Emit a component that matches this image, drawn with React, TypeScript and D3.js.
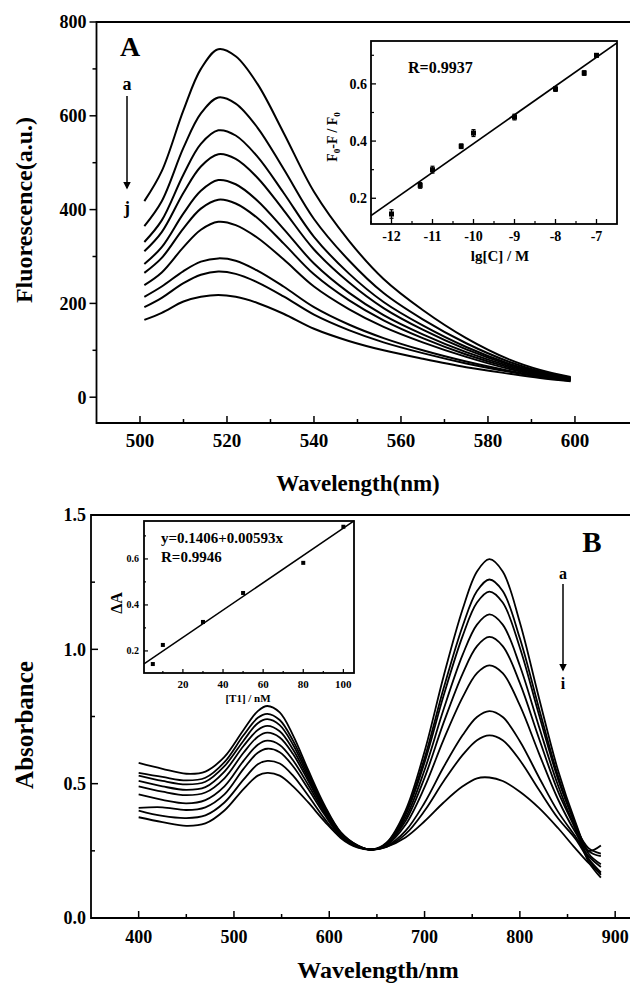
import React from "react";
import * as d3 from "d3";

// ---------- Panel A data ----------
const fluoWavelength = [501, 505, 510, 514, 518, 522, 527, 533, 540, 548, 556, 565, 575, 585, 592, 599];
const fluoLabels = ["a", "b", "c", "d", "e", "f", "g", "h", "i", "j"];
const fluoA = [418, 482, 612, 700, 742, 727, 668, 564, 438, 334, 252, 186, 126, 80, 58, 43];
const fluoB = [365, 418, 532, 605, 639, 626, 575, 487, 380, 292, 222, 166, 115, 75, 55, 42];
const fluoC = [331, 377, 475, 540, 569, 558, 513, 436, 342, 264, 203, 153, 107, 71, 53, 41];
const fluoD = [311, 352, 436, 492, 518, 508, 468, 399, 315, 245, 190, 144, 102, 69, 52, 40];
const fluoE = [284, 320, 392, 440, 463, 454, 419, 359, 285, 223, 175, 134, 96, 66, 50, 39];
const fluoF = [265, 297, 360, 402, 421, 413, 382, 328, 262, 207, 164, 126, 91, 63, 48, 38];
const fluoG = [239, 266, 320, 357, 374, 367, 340, 294, 236, 188, 150, 117, 86, 60, 46, 37];
const fluoH = [214, 236, 269, 289, 296, 291, 270, 236, 192, 155, 126, 100, 76, 56, 44, 36];
const fluoI = [192, 212, 243, 261, 268, 263, 245, 215, 176, 143, 117, 94, 72, 54, 43, 35];
const fluoJ = [165, 180, 204, 214, 218, 214, 201, 178, 146, 120, 100, 82, 64, 50, 41, 34];
const fluoSeries = [fluoA, fluoB, fluoC, fluoD, fluoE, fluoF, fluoG, fluoH, fluoI, fluoJ];
const fluoXTicks = [500, 520, 540, 560, 580, 600];
const fluoYTicks = [0, 200, 400, 600, 800];

// Inset A
const lgC = [-12, -11.3, -11, -10.3, -10, -9, -8, -7.3, -7];
const quench = [0.145, 0.245, 0.3, 0.382, 0.428, 0.484, 0.582, 0.638, 0.7];
const quenchErr = [0.015, 0.01, 0.012, 0.008, 0.012, 0.01, 0.008, 0.008, 0.006];
const quenchFitIntercept = 1.398;
const quenchFitSlope = 0.1007;
const insetAXTicks = [-12, -11, -10, -9, -8, -7];
const insetAYTicks = [0.2, 0.4, 0.6];

// ---------- Panel B data ----------
const absWavelength = [400, 425, 450, 470, 490, 510, 525, 535, 548, 562, 578, 595, 612, 630, 645, 660, 680, 700, 720, 740, 755, 768, 782, 800, 820, 840, 858, 872, 885];
const absA = [0.577, 0.555, 0.537, 0.545, 0.6, 0.7, 0.77, 0.789, 0.765, 0.68, 0.55, 0.42, 0.32, 0.27, 0.255, 0.28, 0.4, 0.62, 0.9, 1.15, 1.29, 1.336, 1.29, 1.1, 0.82, 0.55, 0.36, 0.24, 0.2];
const absB = [0.54, 0.525, 0.512, 0.522, 0.58, 0.68, 0.745, 0.76, 0.737, 0.66, 0.54, 0.415, 0.318, 0.27, 0.255, 0.278, 0.39, 0.595, 0.855, 1.087, 1.217, 1.26, 1.217, 1.041, 0.781, 0.529, 0.352, 0.25, 0.23];
const absC = [0.53, 0.51, 0.497, 0.507, 0.565, 0.66, 0.725, 0.74, 0.718, 0.645, 0.53, 0.41, 0.315, 0.268, 0.255, 0.277, 0.384, 0.579, 0.828, 1.05, 1.174, 1.215, 1.174, 1.006, 0.757, 0.517, 0.348, 0.22, 0.16];
const absD = [0.51, 0.49, 0.477, 0.487, 0.545, 0.64, 0.7, 0.715, 0.695, 0.627, 0.52, 0.405, 0.313, 0.267, 0.255, 0.275, 0.372, 0.551, 0.777, 0.98, 1.092, 1.13, 1.092, 0.939, 0.713, 0.494, 0.34, 0.26, 0.24];
const absE = [0.49, 0.47, 0.457, 0.467, 0.52, 0.615, 0.675, 0.69, 0.672, 0.61, 0.51, 0.4, 0.31, 0.266, 0.255, 0.273, 0.361, 0.522, 0.727, 0.91, 1.012, 1.046, 1.012, 0.874, 0.669, 0.471, 0.332, 0.21, 0.15];
const absF = [0.46, 0.44, 0.427, 0.439, 0.49, 0.585, 0.645, 0.66, 0.644, 0.587, 0.495, 0.393, 0.307, 0.265, 0.255, 0.271, 0.347, 0.487, 0.664, 0.822, 0.911, 0.94, 0.911, 0.791, 0.613, 0.442, 0.321, 0.25, 0.27];
const absG = [0.41, 0.412, 0.402, 0.412, 0.46, 0.555, 0.615, 0.63, 0.617, 0.565, 0.48, 0.385, 0.303, 0.264, 0.255, 0.267, 0.324, 0.429, 0.562, 0.681, 0.748, 0.77, 0.748, 0.658, 0.524, 0.396, 0.305, 0.23, 0.19];
const absH = [0.4, 0.38, 0.372, 0.382, 0.43, 0.515, 0.572, 0.585, 0.575, 0.53, 0.455, 0.37, 0.298, 0.262, 0.255, 0.265, 0.312, 0.399, 0.509, 0.607, 0.662, 0.68, 0.662, 0.587, 0.477, 0.371, 0.296, 0.22, 0.17];
const absI = [0.375, 0.357, 0.343, 0.352, 0.4, 0.48, 0.53, 0.54, 0.53, 0.49, 0.43, 0.36, 0.3, 0.265, 0.255, 0.265, 0.3, 0.36, 0.43, 0.49, 0.52, 0.523, 0.51, 0.47, 0.41, 0.335, 0.26, 0.205, 0.165];
const absSeries = [absA, absB, absC, absD, absE, absF, absG, absH, absI];
const absXTicks = [400, 500, 600, 700, 800, 900];
const absYTicks = [0, 0.5, 1.0, 1.5];

// Inset B
const tlConc = [5, 10, 30, 50, 80, 100];
const deltaA = [0.143, 0.226, 0.326, 0.452, 0.583, 0.74];
const dAFitIntercept = 0.1406;
const dAFitSlope = 0.00593;
const insetBXTicks = [20, 40, 60, 80, 100];
const insetBYTicks = [0.2, 0.4, 0.6];

const FONT = "'Liberation Serif', 'Times New Roman', serif";

export default function App() {
  const ax = d3.scaleLinear().domain([490, 613]).range([96.5, 631.5]);
  const ay = d3.scaleLinear().domain([-55, 800]).range([423, 22]);
  const aLine = d3
    .line<number>()
    .x((_, i) => ax(fluoWavelength[i]))
    .y((d) => ay(d))
    .curve(d3.curveCatmullRom.alpha(0.5));

  const iax = d3.scaleLinear().domain([-12.5, -6.5]).range([371, 617]);
  const iay = d3.scaleLinear().domain([0.11, 0.75]).range([224, 41]);

  const bx = d3.scaleLinear().domain([350, 925]).range([91, 639]);
  const by = d3.scaleLinear().domain([0, 1.5]).range([918, 515]);
  const bLine = d3
    .line<number>()
    .x((_, i) => bx(absWavelength[i]))
    .y((d) => by(d))
    .curve(d3.curveCatmullRom.alpha(0.5));

  const ibx = d3.scaleLinear().domain([0.6, 105.3]).range([144, 354]);
  const iby = d3.scaleLinear().domain([0.104, 0.765]).range([673, 521]);

  const axMinor = d3.range(510, 600, 20);
  const ayMinor = d3.range(100, 800, 200);
  const bxMinor = d3.range(450, 900, 100);
  const byMinor = [0.25, 0.75, 1.25];
  const iaxMinor = d3.range(-12.5, -6.5, 1);
  const iayMinor = [0.3, 0.5, 0.7];
  const ibxMinor = d3.range(10, 110, 20);
  const ibyMinor = [0.3, 0.5, 0.7];

  const sw = 1.8;

  return (
    <svg
      width={630}
      height={984}
      style={{ position: "absolute", left: 0, top: 0, background: "#fff" }}
      fontFamily={FONT}
      fontWeight="bold"
    >
      <defs>
        <marker id="arr" viewBox="0 0 10 10" refX="8" refY="5" markerWidth="5" markerHeight="8" orient="auto">
          <path d="M0,0 L10,5 L0,10 z" fill="#000" />
        </marker>
      </defs>
      <rect x={0} y={0} width={630} height={984} fill="#fff" />

      {/* ================= Panel A ================= */}
      <g>
        {fluoSeries.map((s, k) => (
          <path key={fluoLabels[k]} d={aLine(s) || ""} fill="none" stroke="#000" strokeWidth={2} />
        ))}
        <path
          d={`M${ax(613) + 5},${ay(800)} H${ax(490)} V${ay(-55)} H${ax(613) + 5}`}
          fill="none"
          stroke="#000"
          strokeWidth={sw}
        />
        {fluoYTicks.map((t) => (
          <g key={"ayt" + t}>
            <line x1={ax(490) - 7} x2={ax(490)} y1={ay(t)} y2={ay(t)} stroke="#000" strokeWidth={1.5} />
            <text x={ax(490) - 10} y={ay(t)} dy="0.35em" textAnchor="end" fontSize={18}>
              {t}
            </text>
          </g>
        ))}
        {ayMinor.map((t) => (
          <line key={"aym" + t} x1={ax(490) - 4} x2={ax(490)} y1={ay(t)} y2={ay(t)} stroke="#000" strokeWidth={1.5} />
        ))}
        {fluoXTicks.map((t) => (
          <g key={"axt" + t}>
            <line x1={ax(t)} x2={ax(t)} y1={ay(-55)} y2={ay(-55) - 7} stroke="#000" strokeWidth={1.5} />
            <text x={ax(t)} y={440} dy="0.35em" textAnchor="middle" fontSize={19}>
              {t}
            </text>
          </g>
        ))}
        {axMinor.map((t) => (
          <line key={"axm" + t} x1={ax(t)} x2={ax(t)} y1={ay(-55)} y2={ay(-55) - 4} stroke="#000" strokeWidth={1.5} />
        ))}
        <text x={358} y={483} dy="0.35em" textAnchor="middle" fontSize={23}>
          Wavelength(nm)
        </text>
        <text transform="translate(24,210) rotate(-90)" dy="0.35em" textAnchor="middle" fontSize={24}>
          Fluorescence(a.u.)
        </text>
        <text x={120} y={56} fontSize={28}>
          A
        </text>
        <text x={127} y={84} dy="0.35em" textAnchor="middle" fontSize={18}>
          a
        </text>
        <line x1={127} y1={96} x2={127} y2={188} stroke="#000" strokeWidth={1.5} markerEnd="url(#arr)" />
        <text x={127} y={208} dy="0.35em" textAnchor="middle" fontSize={18}>
          j
        </text>

        {/* Inset A */}
        <rect x={371} y={41} width={246} height={183} fill="#fff" stroke="#000" strokeWidth={sw} />
        <line
          x1={iax(-12.5)}
          y1={iay(quenchFitIntercept + quenchFitSlope * -12.5)}
          x2={iax(-6.5)}
          y2={iay(quenchFitIntercept + quenchFitSlope * -6.5)}
          stroke="#000"
          strokeWidth={1.8}
        />
        {lgC.map((c, i) => (
          <g key={"qa" + i}>
            <line x1={iax(c)} x2={iax(c)} y1={iay(quench[i] - quenchErr[i])} y2={iay(quench[i] + quenchErr[i])} stroke="#000" strokeWidth={1.2} />
            <line x1={iax(c) - 2} x2={iax(c) + 2} y1={iay(quench[i] - quenchErr[i])} y2={iay(quench[i] - quenchErr[i])} stroke="#000" strokeWidth={1.2} />
            <line x1={iax(c) - 2} x2={iax(c) + 2} y1={iay(quench[i] + quenchErr[i])} y2={iay(quench[i] + quenchErr[i])} stroke="#000" strokeWidth={1.2} />
            <rect x={iax(c) - 2.5} y={iay(quench[i]) - 2.5} width={5} height={5} fill="#000" />
          </g>
        ))}
        {insetAXTicks.map((t) => (
          <g key={"iaxt" + t}>
            <line x1={iax(t)} x2={iax(t)} y1={224} y2={219} stroke="#000" strokeWidth={1.3} />
            <text x={iax(t)} y={236} dy="0.35em" textAnchor="middle" fontSize={14}>
              {t}
            </text>
          </g>
        ))}
        {iaxMinor.map((t) => (
          <line key={"iaxm" + t} x1={iax(t)} x2={iax(t)} y1={224} y2={221} stroke="#000" strokeWidth={1.2} />
        ))}
        {insetAYTicks.map((t) => (
          <g key={"iayt" + t}>
            <line x1={371} x2={376} y1={iay(t)} y2={iay(t)} stroke="#000" strokeWidth={1.3} />
            <text x={367} y={iay(t)} dy="0.35em" textAnchor="end" fontSize={14}>
              {t.toFixed(1)}
            </text>
          </g>
        ))}
        {iayMinor.map((t) => (
          <line key={"iaym" + t} x1={371} x2={374} y1={iay(t)} y2={iay(t)} stroke="#000" strokeWidth={1.2} />
        ))}
        <text x={500} y={256} dy="0.35em" textAnchor="middle" fontSize={15}>
          lg[C] / M
        </text>
        <text transform="translate(332,137) rotate(-90)" dy="0.35em" textAnchor="middle" fontSize={14}>
          F<tspan fontSize={9} dy="3">0</tspan>
          <tspan dy="-3">-F / F</tspan>
          <tspan fontSize={9} dy="3">0</tspan>
        </text>
        <text x={408} y={67} dy="0.35em" fontSize={16}>
          R=0.9937
        </text>
      </g>

      {/* ================= Panel B ================= */}
      <g>
        {absSeries.map((s, k) => (
          <path key={"abs" + k} d={bLine(s) || ""} fill="none" stroke="#000" strokeWidth={1.8} />
        ))}
        <path
          d={`M${bx(925) + 5},${by(1.5)} H${bx(350)} V${by(0)} H${bx(925) + 5}`}
          fill="none"
          stroke="#000"
          strokeWidth={sw}
        />
        {absYTicks.map((t) => (
          <g key={"byt" + t}>
            <line x1={bx(350)} x2={bx(350) + 7} y1={by(t)} y2={by(t)} stroke="#000" strokeWidth={1.5} />
            <text x={86} y={by(t)} dy="0.35em" textAnchor="end" fontSize={18}>
              {t.toFixed(1)}
            </text>
          </g>
        ))}
        {byMinor.map((t) => (
          <line key={"bym" + t} x1={bx(350)} x2={bx(350) + 4} y1={by(t)} y2={by(t)} stroke="#000" strokeWidth={1.5} />
        ))}
        {absXTicks.map((t) => (
          <g key={"bxt" + t}>
            <line x1={bx(t)} x2={bx(t)} y1={by(0)} y2={by(0) - 7} stroke="#000" strokeWidth={1.5} />
            <text x={bx(t)} y={937} dy="0.35em" textAnchor="middle" fontSize={18}>
              {t}
            </text>
          </g>
        ))}
        {bxMinor.map((t) => (
          <line key={"bxm" + t} x1={bx(t)} x2={bx(t)} y1={by(0)} y2={by(0) - 4} stroke="#000" strokeWidth={1.5} />
        ))}
        <text x={378} y={970} dy="0.35em" textAnchor="middle" fontSize={24}>
          Wavelength/nm
        </text>
        <text transform="translate(24,725) rotate(-90)" dy="0.35em" textAnchor="middle" fontSize={25}>
          Absorbance
        </text>
        <text x={592} y={552} textAnchor="middle" fontSize={29}>
          B
        </text>
        <text x={563} y={573} dy="0.35em" textAnchor="middle" fontSize={16}>
          a
        </text>
        <line x1={563} y1={584} x2={563} y2={670} stroke="#000" strokeWidth={1.5} markerEnd="url(#arr)" />
        <text x={563} y={683} dy="0.35em" textAnchor="middle" fontSize={16}>
          i
        </text>

        {/* Inset B */}
        <rect x={144} y={521} width={210} height={152} fill="#fff" stroke="#000" strokeWidth={sw} />
        <line
          x1={ibx(0.6)}
          y1={iby(dAFitIntercept + dAFitSlope * 0.6)}
          x2={ibx(105.3)}
          y2={iby(dAFitIntercept + dAFitSlope * 105.3)}
          stroke="#000"
          strokeWidth={1.5}
        />
        {tlConc.map((c, i) => (
          <rect key={"ib" + i} x={ibx(c) - 2} y={iby(deltaA[i]) - 2} width={4} height={4} fill="#000" />
        ))}
        {insetBXTicks.map((t) => (
          <g key={"ibxt" + t}>
            <line x1={ibx(t)} x2={ibx(t)} y1={673} y2={669} stroke="#000" strokeWidth={1.2} />
            <text x={ibx(t)} y={684} dy="0.35em" textAnchor="middle" fontSize={11}>
              {t}
            </text>
          </g>
        ))}
        {ibxMinor.map((t) => (
          <line key={"ibxm" + t} x1={ibx(t)} x2={ibx(t)} y1={673} y2={671} stroke="#000" strokeWidth={1.2} />
        ))}
        {insetBYTicks.map((t) => (
          <g key={"ibyt" + t}>
            <line x1={144} x2={148} y1={iby(t)} y2={iby(t)} stroke="#000" strokeWidth={1.2} />
            <text x={139} y={iby(t)} dy="0.35em" textAnchor="end" fontSize={10}>
              {t.toFixed(1)}
            </text>
          </g>
        ))}
        {ibyMinor.map((t) => (
          <line key={"ibym" + t} x1={144} x2={146} y1={iby(t)} y2={iby(t)} stroke="#000" strokeWidth={1.2} />
        ))}
        <text x={248} y={698} dy="0.35em" textAnchor="middle" fontSize={11}>
          [T1] / nM
        </text>
        <text transform="translate(116,603) rotate(-90)" dy="0.35em" textAnchor="middle" fontSize={16}>
          ΔA
        </text>
        <text x={161} y={538} dy="0.35em" fontSize={15}>
          y=0.1406+0.00593x
        </text>
        <text x={161} y={557} dy="0.35em" fontSize={15}>
          R=0.9946
        </text>
      </g>
    </svg>
  );
}
